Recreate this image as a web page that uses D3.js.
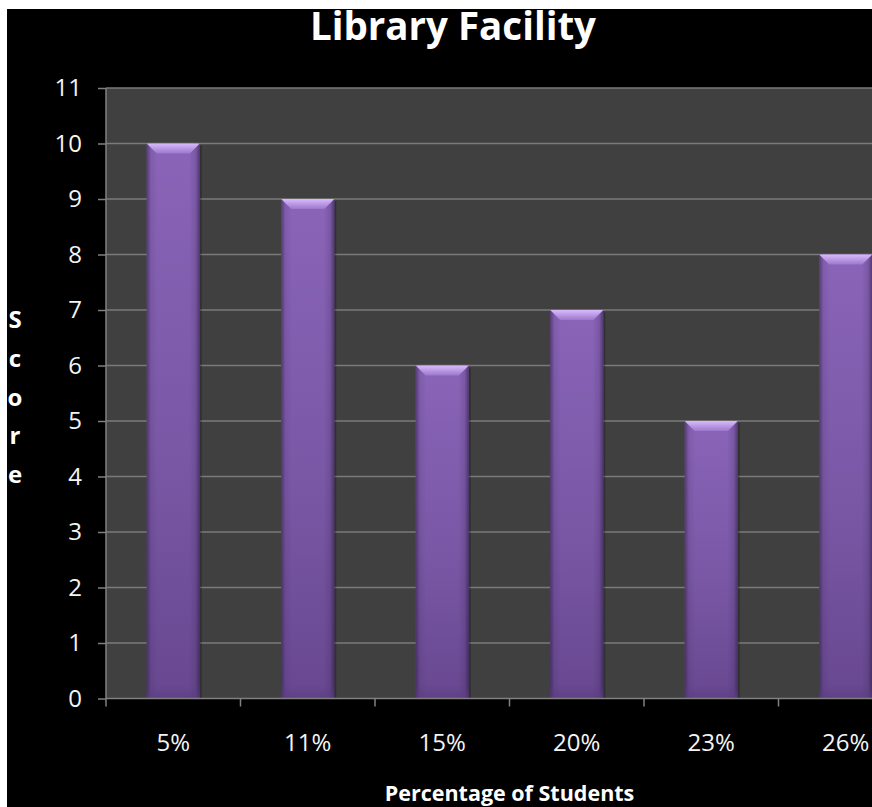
<!DOCTYPE html>
<html>
<head>
<meta charset="utf-8">
<script src="https://cdn.jsdelivr.net/npm/d3@7"></script>
<style>
  html, body { margin: 0; padding: 0; background: #ffffff; overflow: hidden; }
  svg { display: block; }
</style>
</head>
<body>
<script>
const categories = ["5%", "11%", "15%", "20%", "23%", "26%"];
const scores = [10, 9, 6, 7, 5, 8];
const yTicks = [0, 1, 2, 3, 4, 5, 6, 7, 8, 9, 10, 11];
const title = "Library Facility";
const xTitle = "Percentage of Students";
const yTitle = "Score";

const W = 872, H = 807;
const plot = { left: 106, top: 88, right: 913, bottom: 698.5 };
const FONT = "'Open Sans', Lato, sans-serif";

const svg = d3.select("body").append("svg").attr("width", W).attr("height", H);
const defs = svg.append("defs");

// backgrounds
svg.append("rect").attr("width", W).attr("height", H).attr("fill", "#ffffff");
svg.append("rect").attr("x", 7).attr("y", 9).attr("width", W - 7).attr("height", H - 9).attr("fill", "#000000");
svg.append("rect").attr("x", plot.left).attr("y", plot.top)
  .attr("width", plot.right - plot.left).attr("height", plot.bottom - plot.top).attr("fill", "#404040");

const x = d3.scaleBand().domain(categories).range([plot.left, plot.right]).padding(0);
const y = d3.scaleLinear().domain([0, 11]).range([plot.bottom, plot.top]);

// gridlines
svg.append("g").selectAll("line").data(yTicks.filter(d => d > 0)).join("line")
  .attr("x1", plot.left).attr("x2", plot.right)
  .attr("y1", d => y(d)).attr("y2", d => y(d))
  .attr("stroke", "#7a7a7a").attr("stroke-width", 1.5);

// gradients
const gMain = defs.append("linearGradient").attr("id", "gMain").attr("x1", 0).attr("y1", 0).attr("x2", 0).attr("y2", 1);
gMain.append("stop").attr("offset", "0%").attr("stop-color", "#8a64b8");
gMain.append("stop").attr("offset", "55%").attr("stop-color", "#7a58a6");
gMain.append("stop").attr("offset", "100%").attr("stop-color", "#684890");

const gSide = defs.append("linearGradient").attr("id", "gSide").attr("x1", 0).attr("y1", 0).attr("x2", 1).attr("y2", 0);
gSide.append("stop").attr("offset", "0%").attr("stop-color", "#2a1a40").attr("stop-opacity", 0.55);
gSide.append("stop").attr("offset", "8%").attr("stop-color", "#2a1a40").attr("stop-opacity", 0.1);
gSide.append("stop").attr("offset", "20%").attr("stop-color", "#2a1a40").attr("stop-opacity", 0);
gSide.append("stop").attr("offset", "80%").attr("stop-color", "#2a1a40").attr("stop-opacity", 0);
gSide.append("stop").attr("offset", "92%").attr("stop-color", "#2a1a40").attr("stop-opacity", 0.15);
gSide.append("stop").attr("offset", "100%").attr("stop-color", "#2a1a40").attr("stop-opacity", 0.6);

const gTop = defs.append("linearGradient").attr("id", "gTop").attr("x1", 0).attr("y1", 0).attr("x2", 0).attr("y2", 1);
gTop.append("stop").attr("offset", "0%").attr("stop-color", "#d8bafc");
gTop.append("stop").attr("offset", "100%").attr("stop-color", "#9c78cc");

const gBot = defs.append("linearGradient").attr("id", "gBot").attr("x1", 0).attr("y1", 0).attr("x2", 0).attr("y2", 1);
gBot.append("stop").attr("offset", "0%").attr("stop-color", "#5a3c80").attr("stop-opacity", 0);
gBot.append("stop").attr("offset", "100%").attr("stop-color", "#5a3c80").attr("stop-opacity", 0.6);

// bars
const barFrac = 0.395;
const bevel = 10;
const data = categories.map((c, i) => ({ c, v: scores[i] }));
const bars = svg.append("g").selectAll("g").data(data).join("g");
const bx = d => x(d.c) + x.bandwidth() * (1 - barFrac) / 2;
const bw = x.bandwidth() * barFrac;

bars.append("rect")
  .attr("x", d => bx(d) + 2).attr("y", d => y(d.v) + 2)
  .attr("width", bw).attr("height", d => y(0) - y(d.v) - 2)
  .attr("fill", "#000").attr("opacity", 0.25);
bars.append("rect")
  .attr("x", bx).attr("y", d => y(d.v))
  .attr("width", bw).attr("height", d => y(0) - y(d.v))
  .attr("fill", "url(#gMain)");
bars.append("rect")
  .attr("x", bx).attr("y", d => y(d.v))
  .attr("width", bw).attr("height", d => y(0) - y(d.v))
  .attr("fill", "url(#gSide)");
bars.append("rect")
  .attr("x", bx).attr("y", d => y(0) - 14)
  .attr("width", bw).attr("height", 14)
  .attr("fill", "url(#gBot)");
bars.append("path")
  .attr("d", d => {
    const x0 = bx(d), x1 = x0 + bw, t = y(d.v);
    return `M${x0},${t}L${x1},${t}L${x1 - bevel},${t + bevel}L${x0 + bevel},${t + bevel}Z`;
  })
  .attr("fill", "url(#gTop)");

// axes lines
svg.append("line").attr("x1", plot.left).attr("x2", plot.left).attr("y1", plot.top).attr("y2", plot.bottom)
  .attr("stroke", "#808080").attr("stroke-width", 1.5);
svg.append("line").attr("x1", plot.left).attr("x2", plot.right).attr("y1", plot.bottom).attr("y2", plot.bottom)
  .attr("stroke", "#808080").attr("stroke-width", 1.5);

// y axis
const yAxis = d3.axisLeft(y).tickValues(yTicks).tickSize(8).tickPadding(16).tickFormat(d3.format("d"));
const gy = svg.append("g").attr("transform", `translate(${plot.left},0)`).call(yAxis);
gy.select(".domain").remove();
gy.selectAll(".tick line").attr("stroke", "#808080").attr("stroke-width", 1.5);
gy.selectAll(".tick text").attr("fill", "#f4f4f4")
  .style("font-family", FONT).style("font-size", "24px");

// x axis: ticks at category boundaries
const boundaries = categories.map(c => x(c)).concat([x(categories[categories.length - 1]) + x.bandwidth()]);
svg.append("g").selectAll("line").data(boundaries).join("line")
  .attr("x1", d => d).attr("x2", d => d).attr("y1", plot.bottom).attr("y2", plot.bottom + 8)
  .attr("stroke", "#808080").attr("stroke-width", 1.5);
const xAxis = d3.axisBottom(x).tickSize(0).tickPadding(0);
const gx = svg.append("g").attr("transform", `translate(0,${plot.bottom})`).call(xAxis);
gx.select(".domain").remove();
gx.selectAll(".tick text").attr("fill", "#f4f4f4").attr("dy", 0).attr("y", 52)
  .style("font-family", FONT).style("font-size", "24px");

// title
svg.append("text").attr("x", 453).attr("y", 40).attr("text-anchor", "middle")
  .attr("fill", "#ffffff").style("font-family", FONT)
  .style("font-weight", "bold").style("font-size", "38.5px").text(title);

// x title
svg.append("text").attr("x", (plot.left + plot.right) / 2).attr("y", 801).attr("text-anchor", "middle")
  .attr("fill", "#ffffff").style("font-family", FONT)
  .style("font-weight", "bold").style("font-size", "21.5px").text(xTitle);

// y title stacked letters
svg.append("g").selectAll("text").data(yTitle.split("")).join("text")
  .attr("x", 15).attr("y", (d, i) => 328 + i * 38.8).attr("text-anchor", "middle")
  .attr("fill", "#ffffff").style("font-family", FONT)
  .style("font-weight", "bold").style("font-size", "24px").text(d => d);
</script>
</body>
</html>
